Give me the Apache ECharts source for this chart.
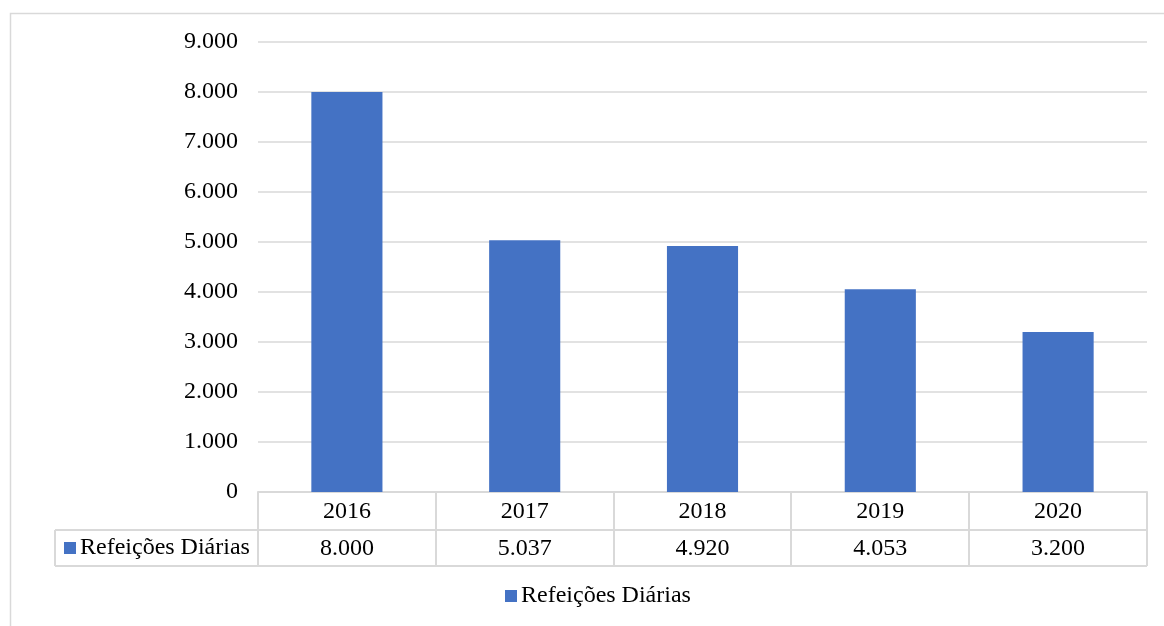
<!DOCTYPE html>
<html>
<head>
<meta charset="utf-8">
<script src="https://cdn.jsdelivr.net/npm/echarts@6/dist/echarts.min.js"></script>
<style>
  html, body { margin: 0; padding: 0; background: #fff; }
  #chart { width: 1164px; height: 626px; }
</style>
</head>
<body>
<div id="chart"></div>
<script>
// Daily meals served per year
const years = ['2016', '2017', '2018', '2019', '2020'];
const meals = [8000, 5037, 4920, 4053, 3200];
const seriesName = 'Refeições Diárias';
const yTicks = { min: 0, max: 9000, interval: 1000 };

const FONT = '"Liberation Serif", "Times New Roman", serif';
const BLUE = '#4472C4';
const LINE = '#d9d9d9';

// Plot area and data table geometry
const W = 1164, H = 626;
const gridLeft = 258, gridRight = 1147, gridTop = 42, gridBottom = 492;
const rowH = 37;             // height of each table row
const tableLeft = 55;        // left edge of the series-name cell

// Thousands separator with a dot
const fmt = v => String(v).replace(/\B(?=(\d{3})+(?!\d))/g, '.');

const chart = echarts.init(document.getElementById('chart'), null, { renderer: 'canvas' });

function tableGraphics() {
  const g = [];
  const row1 = gridBottom + rowH + 1;
  const row2 = row1 + rowH - 1;
  const stroke = { stroke: LINE, lineWidth: 2 };
  // Outer chart frame
  g.push({ type: 'rect', shape: { x: 10.5, y: 13.5, width: W + 20, height: H + 20 },
           style: { fill: null, stroke: LINE, lineWidth: 1.5 }, silent: true });
  // Horizontal table rules
  g.push({ type: 'line', shape: { x1: tableLeft, y1: row1, x2: gridRight, y2: row1 }, style: stroke });
  g.push({ type: 'line', shape: { x1: tableLeft, y1: row2, x2: gridRight, y2: row2 }, style: stroke });
  // Vertical table rules at category boundaries
  const catW = (gridRight - gridLeft) / years.length;
  for (let i = 0; i <= years.length; i++) {
    const x = Math.round(gridLeft + i * catW);
    g.push({ type: 'line', shape: { x1: x, y1: gridBottom, x2: x, y2: row2 }, style: stroke });
  }
  g.push({ type: 'line', shape: { x1: tableLeft, y1: row1, x2: tableLeft, y2: row2 }, style: stroke });
  // Series key inside the table
  const midY = (row1 + row2) / 2;
  g.push({ type: 'rect', shape: { x: 64, y: midY - 6, width: 12, height: 12 }, style: { fill: BLUE } });
  g.push({ type: 'text', style: { x: 80, y: midY, text: seriesName, font: '24px ' + FONT,
           fill: '#000', verticalAlign: 'middle', align: 'left' } });
  return g;
}

chart.setOption({
  animation: false,
  backgroundColor: '#fff',
  textStyle: { fontFamily: FONT },
  grid: { left: gridLeft, right: W - gridRight, top: gridTop, bottom: H - gridBottom, containLabel: false },
  legend: {
    top: 584, left: 505, padding: 0,
    icon: 'rect', itemWidth: 12, itemHeight: 12, itemGap: 10,
    textStyle: { fontFamily: FONT, fontSize: 24, color: '#000', padding: [0, 0, 0, -1] },
    data: [seriesName]
  },
  xAxis: {
    type: 'category',
    data: years,
    axisLine: { show: true, lineStyle: { color: LINE, width: 2 } },
    axisTick: { show: false },
    axisLabel: {
      margin: 1,
      interval: 0,
      formatter: (val, idx) => '{y|' + val + '}\n{v|' + fmt(meals[idx]) + '}',
      rich: {
        y: { fontFamily: FONT, fontSize: 24, color: '#000', lineHeight: rowH, height: rowH },
        v: { fontFamily: FONT, fontSize: 24, color: '#000', lineHeight: rowH, height: rowH }
      }
    }
  },
  yAxis: {
    type: 'value',
    min: yTicks.min, max: yTicks.max, interval: yTicks.interval,
    axisLine: { show: false },
    axisTick: { show: false },
    splitLine: { lineStyle: { color: LINE, width: 1.5 } },
    axisLabel: { margin: 20, fontFamily: FONT, fontSize: 24, color: '#000', formatter: v => fmt(v) }
  },
  series: [{
    name: seriesName,
    type: 'bar',
    data: meals,
    barWidth: '40%',
    itemStyle: { color: BLUE }
  }],
  graphic: tableGraphics()
});
</script>
</body>
</html>
